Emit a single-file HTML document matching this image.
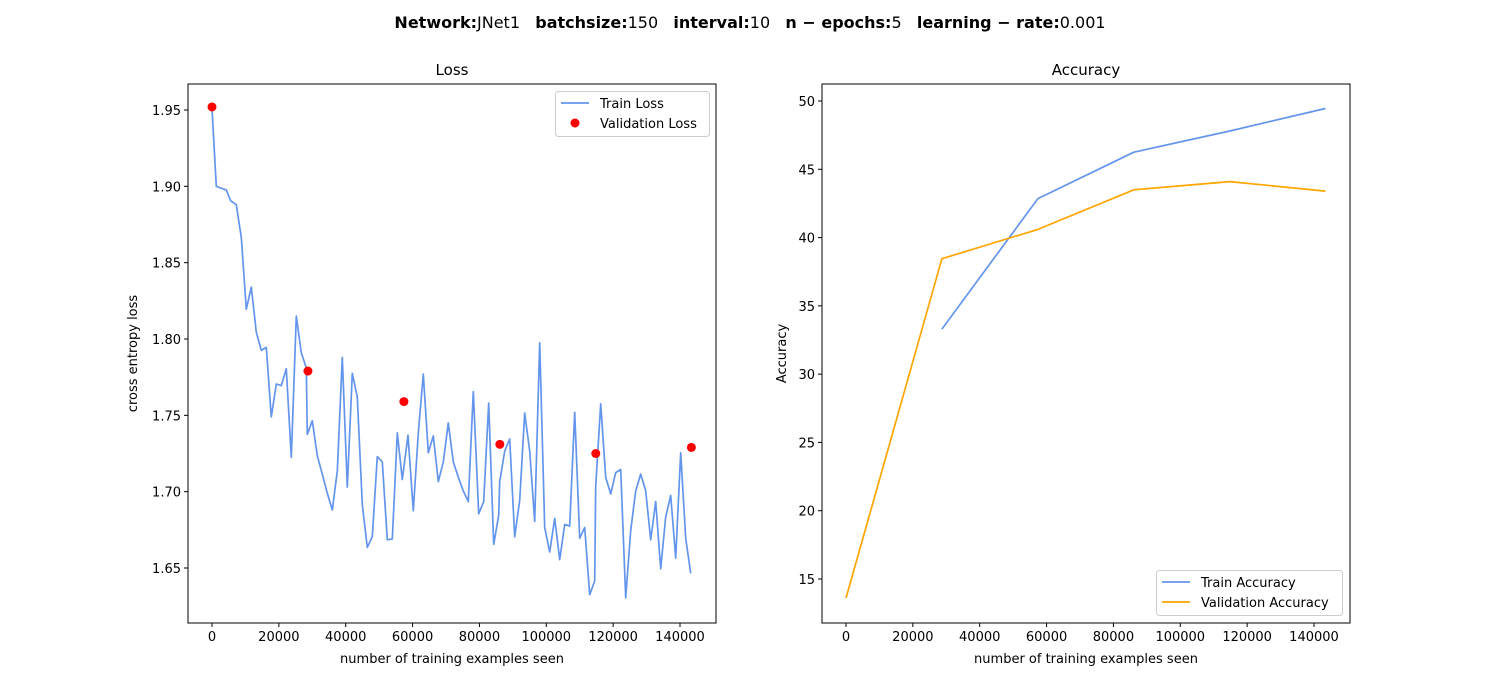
<!DOCTYPE html>
<html><head><meta charset="utf-8"><style>
body{margin:0;background:#fff;}
svg{display:block;font-family:"DejaVu Sans","Liberation Sans",sans-serif;}
</style></head><body>
<svg id="fig" width="1500" height="700" viewBox="0 0 1500 700" xmlns="http://www.w3.org/2000/svg">
<rect width="1500" height="700" fill="#fff"/>
<text x="750" y="28" text-anchor="middle" font-size="16" style="white-space:pre"><tspan font-weight="bold">Network:</tspan>JNet1   <tspan font-weight="bold">batchsize:</tspan>150   <tspan font-weight="bold">interval:</tspan>10   <tspan font-weight="bold">n − epochs:</tspan>5   <tspan font-weight="bold">learning − rate:</tspan>0.001</text>
<g id="left"></g>
<g id="right"></g>
</svg>
<script>
const trainLossX=[0,1290,4280,5590,7270,8770,10260,11760,13250,14750,16240,17740,19240,20730,22230,23720,25220,26710,28210,28510,30010,31500,33000,34490,35990,37480,38980,40480,41970,43470,44960,46460,47950,49450,50940,52440,53940,55430,56930,58630,60220,61710,63210,64710,66200,67700,69190,70690,72190,73680,75180,76670,78170,79780,81280,82780,84270,85770,86070,87560,89060,90550,92050,93540,95040,96540,98030,99530,101020,102520,104010,105510,107010,108500,110000,111490,112990,114480,114780,116280,117770,119270,120770,122260,123760,125250,126750,128240,129740,131240,132730,134230,135720,137220,138710,140210,141710,143200];
const trainLossY=[1.951,1.9,1.8975,1.8905,1.888,1.8665,1.8195,1.834,1.8045,1.7925,1.7945,1.749,1.7705,1.7695,1.7805,1.7225,1.815,1.791,1.781,1.7375,1.7465,1.7235,1.7115,1.699,1.688,1.7135,1.788,1.703,1.7775,1.762,1.6915,1.6635,1.6705,1.723,1.7195,1.6685,1.669,1.7385,1.708,1.737,1.6875,1.7385,1.777,1.7255,1.7365,1.7065,1.7195,1.745,1.7195,1.7095,1.7005,1.6935,1.7655,1.6855,1.6935,1.758,1.6655,1.6845,1.7065,1.7265,1.7345,1.6705,1.6945,1.7515,1.7265,1.6805,1.7975,1.6765,1.6605,1.6825,1.6555,1.6785,1.6775,1.752,1.6695,1.6765,1.6325,1.6415,1.7035,1.7575,1.7095,1.6985,1.7125,1.7145,1.6305,1.6745,1.7005,1.7115,1.7005,1.6685,1.6935,1.6495,1.6835,1.6975,1.6565,1.7255,1.6695,1.6465];
const valLossX=[0,28700,57400,86100,114800,143400];
const valLossY=[1.952,1.779,1.759,1.731,1.725,1.729];
const trainAccX=[28700,57400,86100,114800,143400];
const trainAccY=[33.3,42.85,46.25,47.8,49.45];
const valAccX=[0,28700,57400,86100,114800,143400];
const valAccY=[13.6,38.45,40.6,43.5,44.1,43.4];
const xTicks=[0,20000,40000,60000,80000,100000,120000,140000];
const lossTicks=[1.65,1.70,1.75,1.80,1.85,1.90,1.95];
const accTicks=[15,20,25,30,35,40,45,50];

const NS="http://www.w3.org/2000/svg";
function mk(parent,tag,attrs,text){const e=document.createElementNS(NS,tag);for(const k in attrs)e.setAttribute(k,attrs[k]);if(text!==undefined)e.textContent=text;parent.appendChild(e);return e;}

function axes(g,L,T,W,H,sx,sy,yTicks,yFmt,title,ylab,xlab){
  mk(g,'rect',{x:L,y:T,width:W,height:H,fill:'none',stroke:'#000','stroke-width':1});
  xTicks.forEach(v=>{const x=sx(v);
    const t=mk(g,'line',{x1:x,x2:x,y1:T+H,y2:T+H+4,stroke:'#000'});
    
    
    const l=mk(g,'text',{x:x,y:T+H+18,'font-size':13,'text-anchor':'middle'},String(v));
    
    
  });
  yTicks.forEach(v=>{const y=sy(v);
    const t=mk(g,'line',{x1:L-4,x2:L,y1:y,y2:y,stroke:'#000'});
    
    
    const l=mk(g,'text',{x:L-7,y:y+5,'font-size':13,'text-anchor':'end'},yFmt(v));
    
    
  });
  const tt=mk(g,'text',{x:L+W/2,y:T-9,'font-size':15,'text-anchor':'middle'},title);
  
  
  const xl=mk(g,'text',{x:L+W/2,y:T+H+40,'font-size':13,'text-anchor':'middle'},xlab);
  
  
  const yl=mk(g,'text',{x:0,y:0,'font-size':13,'text-anchor':'middle',transform:`translate(${ylab[1]},${T+H/2}) rotate(-90)`},ylab[0]);
  
  
}
function line(g,xs,ys,sx,sy,color,name){
  const d=xs.map((x,i)=>(i?'L':'M')+sx(x).toFixed(1)+','+sy(ys[i]).toFixed(1)).join('');
  const p=mk(g,'path',{d:d,fill:'none',stroke:color,'stroke-width':1.7,'stroke-linejoin':'round'});
  
  
}

const gl=document.getElementById('left');
const sxL=v=>212+v*(468/140000);
const syL=v=>110+(1.95-v)*(458/0.3);
axes(gl,188,84,528,539,sxL,syL,lossTicks,v=>v.toFixed(2),'Loss',['cross entropy loss',137],'number of training examples seen');
line(gl,trainLossX,trainLossY,sxL,syL,'#6495ed','train-loss-line');
valLossX.forEach((x,i)=>{
  const c=mk(gl,'circle',{cx:sxL(x),cy:syL(valLossY[i]),r:4.5,fill:'#ff0000'});
  
  
});
const lg=mk(gl,'g',{});


mk(lg,'rect',{x:555.5,y:91.5,width:154,height:45,rx:3,fill:'#fff',stroke:'#ccc'});
mk(lg,'line',{x1:561,x2:589,y1:103,y2:103,stroke:'#6495ed','stroke-width':1.7});
mk(lg,'text',{x:600,y:108,'font-size':13},'Train Loss');
mk(lg,'circle',{cx:575,cy:123,r:4.5,fill:'#ff0000'});
mk(lg,'text',{x:600,y:128,'font-size':13},'Validation Loss');

const gr=document.getElementById('right');
const sxR=v=>846+v*(468/140000);
const syR=v=>101+(50-v)*(478/35);
axes(gr,822,84,528,539,sxR,syR,accTicks,v=>String(v),'Accuracy',['Accuracy',786],'number of training examples seen');
line(gr,trainAccX,trainAccY,sxR,syR,'#6495ed','train-accuracy-line');
line(gr,valAccX,valAccY,sxR,syR,'#ffa500','validation-accuracy-line');
const lg2=mk(gr,'g',{});


mk(lg2,'rect',{x:1156.5,y:570.5,width:186,height:45,rx:3,fill:'#fff',stroke:'#ccc'});
mk(lg2,'line',{x1:1162,x2:1190,y1:582,y2:582,stroke:'#6495ed','stroke-width':1.7});
mk(lg2,'text',{x:1201,y:587,'font-size':13},'Train Accuracy');
mk(lg2,'line',{x1:1162,x2:1190,y1:602,y2:602,stroke:'#ffa500','stroke-width':1.7});
mk(lg2,'text',{x:1201,y:607,'font-size':13},'Validation Accuracy');
</script>
</body></html>
